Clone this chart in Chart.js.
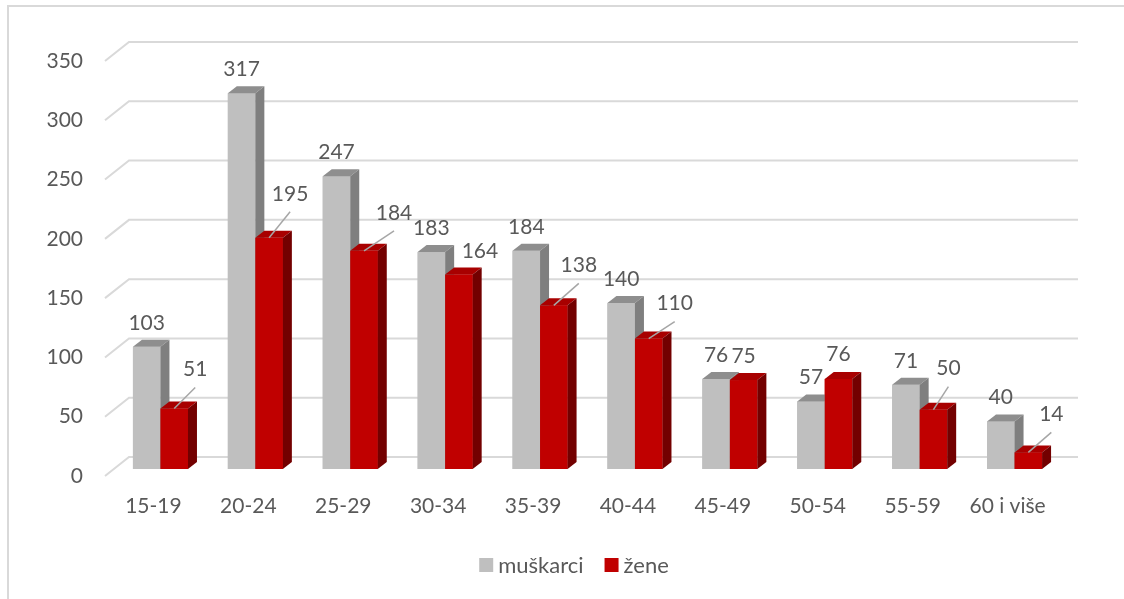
<!DOCTYPE html>
<html><head><meta charset="utf-8">
<script src="https://cdn.jsdelivr.net/npm/chart.js@4.4.0/dist/chart.umd.min.js"></script>
<style>html,body{margin:0;padding:0;background:#fff}#wrap{width:1124px;height:599px}</style>
</head><body><div id="wrap"><canvas id="c" width="1124" height="599"></canvas></div>
<script>
const categories = ['15-19','20-24','25-29','30-34','35-39','40-44','45-49','50-54','55-59','60 i više'];
const muskarci = [103,317,247,183,184,140,76,57,71,40];
const zene = [51,195,184,164,138,110,75,76,50,14];
const yTicks = [0,50,100,150,200,250,300,350];
const seriesNames = ['muškarci','žene'];
// manual label placement used in the source for the "žene" labels: [dx, dy, leader line]
const zeneLabelShift = [[21,-39,1],[21,-44,1],[30,-38,1],[21,-23,0],[25,-40,1],[26,-35,1],[0,-24,0],[0,-25,0],[15,-41,1],[23,-38,1]];

const FONT = '21px Lato';
const TXT = '#595959';
const DX = 9, DY = 7;
const faces = [
  {front:'#bfbfbf', top:'#8e8e8e', side:'#7f7f7f'},
  {front:'#c00000', top:'#a80000', side:'#730000'}
];

const plugin3d = {
  id: 'three',
  beforeDatasetsDraw(chart){
    const ctx = chart.ctx, ys = chart.scales.y, a = chart.chartArea;
    ctx.save();
    ctx.strokeStyle = '#d9d9d9';
    ctx.lineWidth = 2;
    yTicks.forEach(v => {
      const yb = ys.getPixelForValue(v);
      ctx.beginPath();
      ctx.moveTo(a.left - 8, yb + 7);
      ctx.lineTo(a.left + 16, yb - 12);
      ctx.lineTo(a.right + 16, yb - 12);
      ctx.stroke();
    });
    ctx.restore();
  },
  afterDatasetsDraw(chart){
    const ctx = chart.ctx;
    const metas = [chart.getDatasetMeta(0), chart.getDatasetMeta(1)];
    ctx.save();
    categories.forEach((c, i) => {
      metas.forEach((m, d) => {
        const f = faces[d];
        const p = m.data[i].getProps(['x','y','base','width'], true);
        const l = p.x - p.width/2, r = p.x + p.width/2, t = p.y, b = p.base;
        ctx.fillStyle = f.front;
        ctx.fillRect(l, t, r - l, b - t);
        ctx.fillStyle = f.top;
        ctx.beginPath();
        ctx.moveTo(l, t); ctx.lineTo(r, t); ctx.lineTo(r+DX, t-DY); ctx.lineTo(l+DX, t-DY); ctx.closePath(); ctx.fill();
        ctx.fillStyle = f.side;
        ctx.beginPath();
        ctx.moveTo(r, t); ctx.lineTo(r+DX, t-DY); ctx.lineTo(r+DX, b-DY); ctx.lineTo(r, b); ctx.closePath(); ctx.fill();
      });
    });
    ctx.restore();
  },
  afterDraw(chart){
    const ctx = chart.ctx;
    ctx.save();
    ctx.font = FONT;
    ctx.fillStyle = TXT;
    ctx.textAlign = 'center';
    ctx.textBaseline = 'middle';
    const m0 = chart.getDatasetMeta(0), m1 = chart.getDatasetMeta(1);
    m0.data.forEach((el, i) => {
      ctx.fillText(String(muskarci[i]), el.x, el.y - 24);
    });
    m1.data.forEach((el, i) => {
      const s = zeneLabelShift[i];
      const lx = el.x + s[0], ly = el.y + s[1];
      if (s[2]) {
        ctx.strokeStyle = '#a6a6a6';
        ctx.lineWidth = 1.5;
        ctx.beginPath();
        ctx.moveTo(el.x, el.y);
        ctx.lineTo(lx, ly + 18);
        ctx.stroke();
      }
      ctx.fillStyle = TXT;
      ctx.fillText(String(zene[i]), lx, ly);
    });
    // legend
    ctx.textAlign = 'left';
    ctx.font = '22px Lato';
    const box = 14, gap = 5, itemGap = 21, cy = 565;
    const widths = seriesNames.map(n => box + gap + ctx.measureText(n).width);
    const total = widths.reduce((s,w)=>s+w,0) + itemGap*(seriesNames.length-1);
    let x = 574 - total/2;
    seriesNames.forEach((n, i) => {
      ctx.fillStyle = faces[i].front;
      ctx.fillRect(x, cy - 7, box, box);
      ctx.fillStyle = TXT;
      ctx.fillText(n, x + box + gap, cy + 1);
      x += widths[i] + itemGap;
    });
    // outer border
    ctx.strokeStyle = '#d9d9d9';
    ctx.lineWidth = 2;
    ctx.beginPath();
    ctx.moveTo(8, 600); ctx.lineTo(8, 6); ctx.lineTo(1125, 6);
    ctx.stroke();
    ctx.restore();
  }
};

new Chart(document.getElementById('c'), {
  type: 'bar',
  data: {
    labels: categories,
    datasets: [
      {label: seriesNames[0], data: muskarci, backgroundColor: faces[0].front, categoryPercentage: 0.58, barPercentage: 1},
      {label: seriesNames[1], data: zene, backgroundColor: faces[1].front, categoryPercentage: 0.58, barPercentage: 1}
    ]
  },
  options: {
    responsive: false,
    animation: false,
    devicePixelRatio: 1,
    layout: {padding: {top: 54, right: 62, left: 0, bottom: 0}},
    plugins: {legend: {display: false}, tooltip: {enabled: false}},
    scales: {
      x: {
        grid: {display: false, drawTicks: false},
        border: {display: false},
        ticks: {font: {family: 'Lato', size: 21}, color: TXT, padding: 25, labelOffset: -7, maxRotation: 0, autoSkip: false},
        afterFit: s => { s.height = 130; }
      },
      y: {
        min: 0, max: 350,
        grid: {display: false, drawTicks: false},
        border: {display: false},
        ticks: {font: {family: 'Lato', size: 21}, color: TXT, padding: 30, labelOffset: 7},
        afterBuildTicks: s => { s.ticks = yTicks.map(v => ({value: v})); },
        afterFit: s => { s.width = 113; }
      }
    }
  },
  plugins: [plugin3d]
});
</script></body></html>
